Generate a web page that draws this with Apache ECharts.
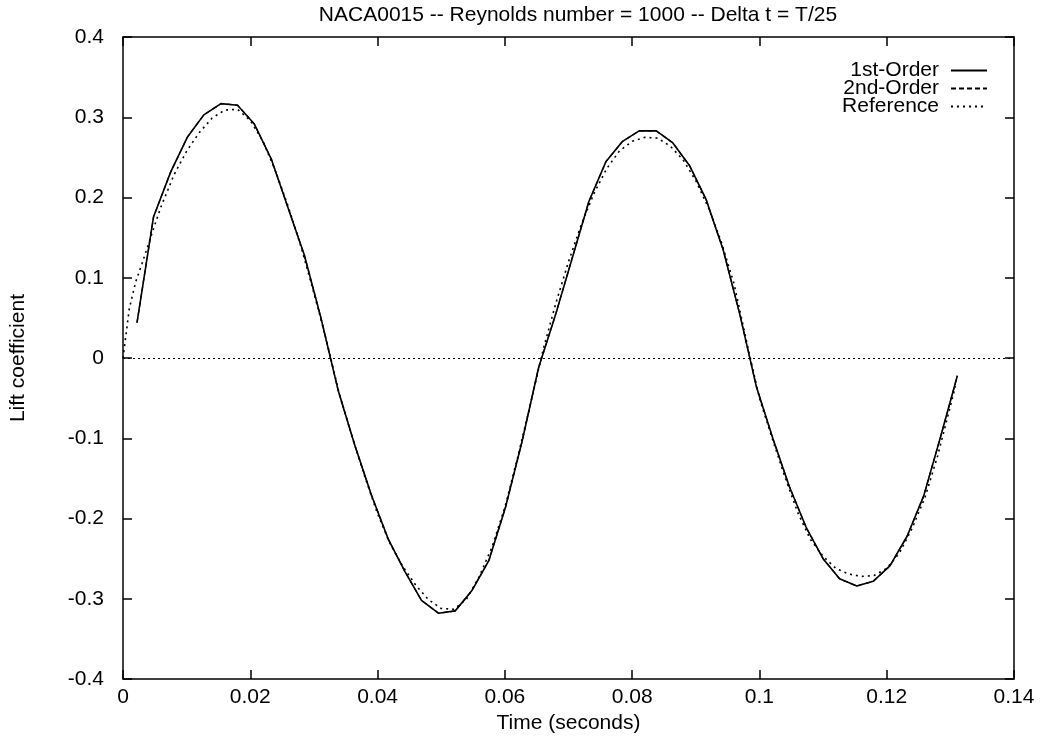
<!DOCTYPE html>
<html>
<head>
<meta charset="utf-8">
<script src="https://cdn.jsdelivr.net/npm/echarts@6/dist/echarts.min.js"></script>
<style>
html,body{margin:0;padding:0;background:#fff;}
#chart{width:1043px;height:739px;}
</style>
</head>
<body>
<div id="chart"></div>
<script>
// ---- data ----
const titleText = 'NACA0015 -- Reynolds number = 1000 -- Delta t = T/25';
const xName = 'Time (seconds)';
const yName = 'Lift coefficient';
const seriesNames = ['1st-Order', '2nd-Order', 'Reference'];

// time step samples of the solvers (Delta t = T/25)
const tSolver = [0.0022, 0.0048, 0.0075, 0.0101, 0.0127, 0.0154, 0.0180, 0.0206, 0.0233, 0.0259,
  0.0285, 0.0311, 0.0338, 0.0364, 0.0390, 0.0417, 0.0443, 0.0469, 0.0496, 0.0522,
  0.0548, 0.0575, 0.0601, 0.0627, 0.0653, 0.0680, 0.0706, 0.0732, 0.0759, 0.0785,
  0.0811, 0.0838, 0.0864, 0.0890, 0.0916, 0.0943, 0.0969, 0.0995, 0.1021, 0.1047,
  0.1074, 0.1100, 0.1126, 0.1153, 0.1179, 0.1205, 0.1232, 0.1258, 0.1284, 0.1311];
const cl1st = [0.044, 0.176, 0.232, 0.275, 0.303, 0.317, 0.315, 0.292, 0.248, 0.188,
  0.128, 0.050, -0.040, -0.108, -0.170, -0.226, -0.266, -0.302, -0.318, -0.315,
  -0.290, -0.252, -0.186, -0.104, -0.012, 0.055, 0.125, 0.195, 0.245, 0.270,
  0.283, 0.283, 0.268, 0.240, 0.198, 0.135, 0.055, -0.035, -0.100, -0.160,
  -0.212, -0.250, -0.275, -0.284, -0.278, -0.259, -0.222, -0.172, -0.100, -0.022];
const cl2nd = [0.044, 0.176, 0.232, 0.275, 0.303, 0.317, 0.315, 0.292, 0.248, 0.188,
  0.128, 0.050, -0.040, -0.108, -0.170, -0.226, -0.266, -0.302, -0.318, -0.315,
  -0.290, -0.252, -0.186, -0.104, -0.012, 0.055, 0.125, 0.195, 0.245, 0.270,
  0.283, 0.283, 0.268, 0.240, 0.198, 0.135, 0.055, -0.035, -0.100, -0.160,
  -0.212, -0.250, -0.275, -0.284, -0.278, -0.259, -0.222, -0.172, -0.100, -0.022];

// reference solution samples
const tRef = [0, 0.001, 0.002, 0.003, 0.004, 0.005, 0.006, 0.008, 0.010, 0.012,
  0.014, 0.016, 0.018, 0.020, 0.022, 0.024, 0.026, 0.028, 0.030, 0.032,
  0.034, 0.036, 0.038, 0.040, 0.042, 0.044, 0.046, 0.048, 0.050, 0.052,
  0.054, 0.056, 0.058, 0.060, 0.062, 0.064, 0.066, 0.068, 0.070, 0.072,
  0.074, 0.076, 0.078, 0.080, 0.082, 0.084, 0.086, 0.088, 0.090, 0.092,
  0.094, 0.096, 0.098, 0.100, 0.102, 0.104, 0.106, 0.108, 0.110, 0.112,
  0.114, 0.116, 0.118, 0.120, 0.122, 0.124, 0.126, 0.128, 0.130, 0.1308];
const clRef = [0, 0.062, 0.095, 0.118, 0.142, 0.166, 0.189, 0.228, 0.258, 0.281,
  0.299, 0.309, 0.310, 0.296, 0.270, 0.232, 0.188, 0.138, 0.081, 0.021,
  -0.045, -0.098, -0.148, -0.194, -0.232, -0.260, -0.283, -0.301, -0.312, -0.313,
  -0.300, -0.272, -0.235, -0.186, -0.124, -0.058, 0.010, 0.068, 0.120, 0.166,
  0.205, 0.236, 0.258, 0.270, 0.275, 0.274, 0.264, 0.247, 0.221, 0.187,
  0.145, 0.093, 0.020, -0.050, -0.100, -0.148, -0.192, -0.226, -0.247, -0.262,
  -0.269, -0.272, -0.271, -0.262, -0.243, -0.212, -0.174, -0.122, -0.060, -0.035];

const xTicks = {min: 0, max: 0.14, interval: 0.02};
const yTicks = {min: -0.4, max: 0.4, interval: 0.1};

// ---- chart ----
const pair = (xs, ys) => xs.map((x, i) => [x, ys[i]]);
const FONT = '"Liberation Sans", Arial, Helvetica, sans-serif';
const FS = 21;
const chart = echarts.init(document.getElementById('chart'), null, {renderer: 'canvas'});

const axisCommon = () => ({
  axisLine: {show: true, onZero: false, lineStyle: {color: '#000', width: 1.5}},
  axisTick: {show: true, inside: true, length: 9, lineStyle: {color: '#000', width: 1.5}},
  splitLine: {show: false}
});

chart.setOption({
  animation: false,
  backgroundColor: '#fff',
  title: {
    text: titleText, left: 573, top: 0, textAlign: 'center',
    textStyle: {fontFamily: FONT, fontSize: FS, fontWeight: 'normal', color: '#000'}
  },
  grid: {left: 122, right: 29, top: 37, bottom: 53},
  legend: {
    orient: 'vertical', right: 50, top: 55, itemGap: -3, itemWidth: 36, itemHeight: 14,
    align: 'right', icon: 'inherit',
    itemStyle: {opacity: 0},
    textStyle: {fontFamily: FONT, fontSize: FS, color: '#000', lineHeight: 17, padding: [0, 7, 0, 0]},
    data: seriesNames
  },
  xAxis: [
    Object.assign({
      type: 'value', position: 'bottom', min: xTicks.min, max: xTicks.max, interval: xTicks.interval,
      name: xName, nameLocation: 'middle', nameGap: 28,
      nameTextStyle: {fontFamily: FONT, fontSize: FS, color: '#000'},
      axisLabel: {fontFamily: FONT, fontSize: FS, color: '#000', margin: 8}
    }, axisCommon()),
    Object.assign({
      type: 'value', position: 'top', min: xTicks.min, max: xTicks.max, interval: xTicks.interval,
      axisLabel: {show: false}
    }, axisCommon())
  ],
  yAxis: [
    Object.assign({
      type: 'value', position: 'left', min: yTicks.min, max: yTicks.max, interval: yTicks.interval,
      name: yName, nameLocation: 'middle', nameGap: 94, nameRotate: 90,
      nameTextStyle: {fontFamily: FONT, fontSize: FS, color: '#000'},
      axisLabel: {fontFamily: FONT, fontSize: FS, color: '#000', margin: 19}
    }, axisCommon()),
    Object.assign({
      type: 'value', position: 'right', min: yTicks.min, max: yTicks.max, interval: yTicks.interval,
      axisLabel: {show: false}
    }, axisCommon())
  ],
  series: [
    {
      name: seriesNames[0], type: 'line', data: pair(tSolver, cl1st), symbol: 'none',
      lineStyle: {color: '#000', width: 1.6, type: 'solid'}, itemStyle: {color: '#000'}, z: 3
    },
    {
      name: seriesNames[1], type: 'line', data: pair(tSolver, cl2nd), symbol: 'none',
      lineStyle: {color: '#000', width: 1.3, type: [5, 3]}, itemStyle: {color: '#000'}, z: 4
    },
    {
      name: seriesNames[2], type: 'line', data: pair(tRef, clRef), symbol: 'none',
      lineStyle: {color: '#000', width: 1.6, type: [2, 4]}, itemStyle: {color: '#000'}, z: 2,
      markLine: {
        silent: true, symbol: 'none', label: {show: false},
        lineStyle: {color: '#000', width: 1, type: [2, 3]},
        data: [{yAxis: 0}]
      }
    }
  ]
});
</script>
</body>
</html>
